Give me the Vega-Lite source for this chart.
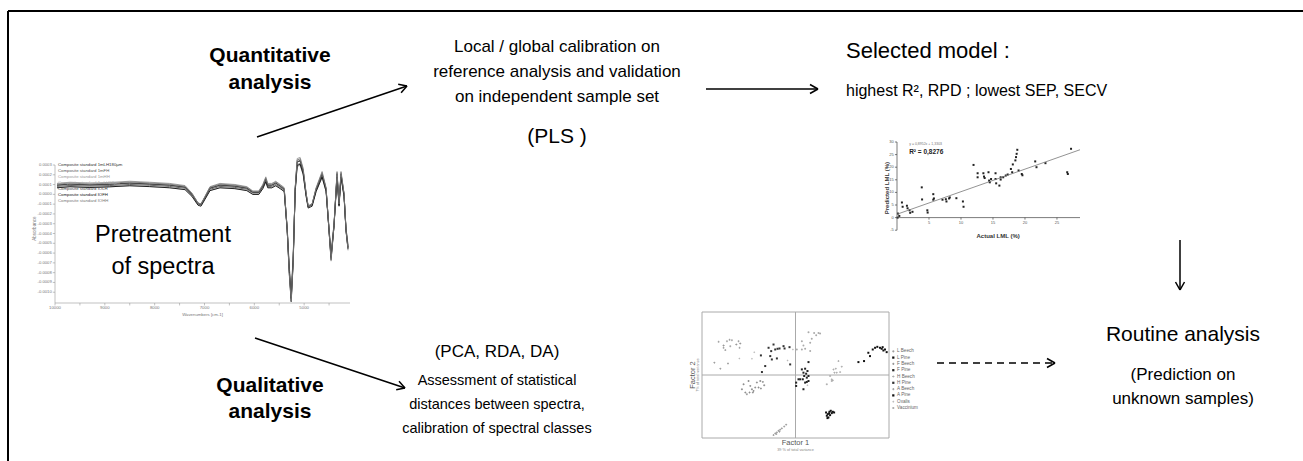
{
  "$schema": "https://vega.github.io/schema/vega-lite/v6.json",
  "width": 1303,
  "height": 461,
  "autosize": {"type": "none"},
  "padding": 0,
  "background": "white",
  "config": {"view": {"stroke": null}, "font": "Liberation Sans"},
  "resolve": {"scale": {"x": "independent", "y": "independent", "color": "independent", "shape": "independent"}},
  "layer": [
    {
      "layer": [
        {
          "data": {"values": [
            {"wavenumber": 9960, "1mLH180µm": 0.95, "1mFH": 0.81, "1mHH": 1.12, "1mLH63µm": 0.68, "IOLH": 0.93, "IOFH": 0.67, "IOHH": 1.04},
            {"wavenumber": 9700, "1mLH180µm": 1.06, "1mFH": 0.91, "1mHH": 1.24, "1mLH63µm": 0.78, "IOLH": 1.04, "IOFH": 0.78, "IOHH": 1.16},
            {"wavenumber": 9300, "1mLH180µm": 0.98, "1mFH": 0.84, "1mHH": 1.15, "1mLH63µm": 0.70, "IOLH": 0.95, "IOFH": 0.70, "IOHH": 1.06},
            {"wavenumber": 8900, "1mLH180µm": 1.04, "1mFH": 0.90, "1mHH": 1.22, "1mLH63µm": 0.77, "IOLH": 1.02, "IOFH": 0.77, "IOHH": 1.14},
            {"wavenumber": 8500, "1mLH180µm": 1.16, "1mFH": 1.01, "1mHH": 1.34, "1mLH63µm": 0.88, "IOLH": 1.14, "IOFH": 0.88, "IOHH": 1.26},
            {"wavenumber": 8100, "1mLH180µm": 1.06, "1mFH": 0.93, "1mHH": 1.24, "1mLH63µm": 0.80, "IOLH": 1.04, "IOFH": 0.79, "IOHH": 1.16},
            {"wavenumber": 7700, "1mLH180µm": 0.95, "1mFH": 0.81, "1mHH": 1.12, "1mLH63µm": 0.68, "IOLH": 0.93, "IOFH": 0.67, "IOHH": 1.04},
            {"wavenumber": 7390, "1mLH180µm": 0.75, "1mFH": 0.62, "1mHH": 0.90, "1mLH63µm": 0.50, "IOLH": 0.72, "IOFH": 0.48, "IOHH": 0.83},
            {"wavenumber": 7250, "1mLH180µm": 0.03, "1mFH": -0.07, "1mHH": 0.12, "1mLH63µm": -0.16, "IOLH": -0.02, "IOFH": -0.22, "IOHH": 0.08},
            {"wavenumber": 7130, "1mLH180µm": -0.89, "1mFH": -0.94, "1mHH": -0.87, "1mLH63µm": -1.01, "IOLH": -0.97, "IOFH": -1.11, "IOHH": -0.89},
            {"wavenumber": 7070, "1mLH180µm": -0.99, "1mFH": -1.04, "1mHH": -0.98, "1mLH63µm": -1.10, "IOLH": -1.07, "IOFH": -1.21, "IOHH": -0.99},
            {"wavenumber": 6990, "1mLH180µm": -0.27, "1mFH": -0.35, "1mHH": -0.20, "1mLH63µm": -0.44, "IOLH": -0.33, "IOFH": -0.51, "IOHH": -0.24},
            {"wavenumber": 6890, "1mLH180µm": 0.65, "1mFH": 0.52, "1mHH": 0.79, "1mLH63µm": 0.41, "IOLH": 0.62, "IOFH": 0.38, "IOHH": 0.73},
            {"wavenumber": 6690, "1mLH180µm": 0.95, "1mFH": 0.81, "1mHH": 1.12, "1mLH63µm": 0.68, "IOLH": 0.93, "IOFH": 0.67, "IOHH": 1.04},
            {"wavenumber": 6390, "1mLH180µm": 0.85, "1mFH": 0.71, "1mHH": 1.01, "1mLH63µm": 0.59, "IOLH": 0.82, "IOFH": 0.58, "IOHH": 0.94},
            {"wavenumber": 6150, "1mLH180µm": 0.65, "1mFH": 0.52, "1mHH": 0.79, "1mLH63µm": 0.41, "IOLH": 0.62, "IOFH": 0.38, "IOHH": 0.73},
            {"wavenumber": 6030, "1mLH180µm": 0.24, "1mFH": 0.13, "1mHH": 0.35, "1mLH63µm": 0.03, "IOLH": 0.19, "IOFH": -0.01, "IOHH": 0.30},
            {"wavenumber": 5910, "1mLH180µm": 0.24, "1mFH": 0.13, "1mHH": 0.35, "1mLH63µm": 0.03, "IOLH": 0.19, "IOFH": -0.01, "IOHH": 0.30},
            {"wavenumber": 5830, "1mLH180µm": 0.85, "1mFH": 0.71, "1mHH": 1.01, "1mLH63µm": 0.59, "IOLH": 0.82, "IOFH": 0.58, "IOHH": 0.94},
            {"wavenumber": 5770, "1mLH180µm": 1.57, "1mFH": 1.40, "1mHH": 1.79, "1mLH63µm": 1.25, "IOLH": 1.56, "IOFH": 1.28, "IOHH": 1.69},
            {"wavenumber": 5730, "1mLH180µm": 0.95, "1mFH": 0.81, "1mHH": 1.12, "1mLH63µm": 0.68, "IOLH": 0.93, "IOFH": 0.67, "IOHH": 1.04},
            {"wavenumber": 5650, "1mLH180µm": 0.95, "1mFH": 0.81, "1mHH": 1.12, "1mLH63µm": 0.68, "IOLH": 0.93, "IOFH": 0.67, "IOHH": 1.04},
            {"wavenumber": 5570, "1mLH180µm": 1.16, "1mFH": 1.01, "1mHH": 1.34, "1mLH63µm": 0.88, "IOLH": 1.14, "IOFH": 0.88, "IOHH": 1.26},
            {"wavenumber": 5480, "1mLH180µm": 0.85, "1mFH": 0.71, "1mHH": 1.01, "1mLH63µm": 0.59, "IOLH": 0.82, "IOFH": 0.58, "IOHH": 0.94},
            {"wavenumber": 5400, "1mLH180µm": 0.55, "1mFH": 0.43, "1mHH": 0.69, "1mLH63µm": 0.31, "IOLH": 0.51, "IOFH": 0.29, "IOHH": 0.62},
            {"wavenumber": 5340, "1mLH180µm": -3.54, "1mFH": -3.46, "1mHH": -3.73, "1mLH63µm": -3.45, "IOLH": -3.70, "IOFH": -3.68, "IOHH": -3.67},
            {"wavenumber": 5300, "1mLH180µm": -7.63, "1mFH": -7.34, "1mHH": -8.15, "1mLH63µm": -7.21, "IOLH": -7.91, "IOFH": -7.65, "IOHH": -7.97},
            {"wavenumber": 5260, "1mLH180µm": -10.69, "1mFH": -10.25, "1mHH": -11.0, "1mLH63µm": -10.03, "IOLH": -10.95, "IOFH": -10.62, "IOHH": -10.9},
            {"wavenumber": 5220, "1mLH180µm": -6.61, "1mFH": -6.37, "1mHH": -7.05, "1mLH63µm": -6.27, "IOLH": -6.86, "IOFH": -6.66, "IOHH": -6.90},
            {"wavenumber": 5180, "1mLH180µm": 0.55, "1mFH": 0.43, "1mHH": 0.69, "1mLH63µm": 0.31, "IOLH": 0.51, "IOFH": 0.29, "IOHH": 0.62},
            {"wavenumber": 5140, "1mLH180µm": 3.30, "1mFH": 3.04, "1mHH": 3.66, "1mLH63µm": 2.84, "IOLH": 3.35, "IOFH": 2.95, "IOHH": 3.51},
            {"wavenumber": 5080, "1mLH180µm": 3.41, "1mFH": 3.14, "1mHH": 3.77, "1mLH63µm": 2.95, "IOLH": 3.46, "IOFH": 3.06, "IOHH": 3.63},
            {"wavenumber": 5020, "1mLH180µm": 2.39, "1mFH": 2.18, "1mHH": 2.67, "1mLH63µm": 2.01, "IOLH": 2.41, "IOFH": 2.07, "IOHH": 2.55},
            {"wavenumber": 4960, "1mLH180µm": 0.03, "1mFH": -0.07, "1mHH": 0.12, "1mLH63µm": -0.16, "IOLH": -0.02, "IOFH": -0.22, "IOHH": 0.08},
            {"wavenumber": 4920, "1mLH180µm": -1.19, "1mFH": -1.23, "1mHH": -1.19, "1mLH63µm": -1.29, "IOLH": -1.28, "IOFH": -1.40, "IOHH": -1.20},
            {"wavenumber": 4840, "1mLH180µm": -0.99, "1mFH": -1.04, "1mHH": -0.98, "1mLH63µm": -1.10, "IOLH": -1.07, "IOFH": -1.21, "IOHH": -0.99},
            {"wavenumber": 4760, "1mLH180µm": 0.55, "1mFH": 0.43, "1mHH": 0.69, "1mLH63µm": 0.31, "IOLH": 0.51, "IOFH": 0.29, "IOHH": 0.62},
            {"wavenumber": 4640, "1mLH180µm": 2.08, "1mFH": 1.88, "1mHH": 2.34, "1mLH63µm": 1.72, "IOLH": 2.09, "IOFH": 1.77, "IOHH": 2.23},
            {"wavenumber": 4560, "1mLH180µm": 0.55, "1mFH": 0.43, "1mHH": 0.69, "1mLH63µm": 0.31, "IOLH": 0.51, "IOFH": 0.29, "IOHH": 0.62},
            {"wavenumber": 4460, "1mLH180µm": -6.40, "1mFH": -6.18, "1mHH": -6.82, "1mLH63µm": -6.08, "IOLH": -6.65, "IOFH": -6.46, "IOHH": -6.68},
            {"wavenumber": 4400, "1mLH180µm": -3.03, "1mFH": -2.97, "1mHH": -3.18, "1mLH63µm": -2.98, "IOLH": -3.17, "IOFH": -3.19, "IOHH": -3.14},
            {"wavenumber": 4340, "1mLH180µm": 2.08, "1mFH": 1.88, "1mHH": 2.34, "1mLH63µm": 1.72, "IOLH": 2.09, "IOFH": 1.77, "IOHH": 2.23},
            {"wavenumber": 4300, "1mLH180µm": -0.99, "1mFH": -1.04, "1mHH": -0.98, "1mLH63µm": -1.10, "IOLH": -1.07, "IOFH": -1.21, "IOHH": -0.99},
            {"wavenumber": 4260, "1mLH180µm": 2.08, "1mFH": 1.88, "1mHH": 2.34, "1mLH63µm": 1.72, "IOLH": 2.09, "IOFH": 1.77, "IOHH": 2.23},
            {"wavenumber": 4200, "1mLH180µm": 0.03, "1mFH": -0.07, "1mHH": 0.12, "1mLH63µm": -0.16, "IOLH": -0.02, "IOFH": -0.22, "IOHH": 0.08},
            {"wavenumber": 4160, "1mLH180µm": -3.54, "1mFH": -3.46, "1mHH": -3.73, "1mLH63µm": -3.45, "IOLH": -3.70, "IOFH": -3.68, "IOHH": -3.67},
            {"wavenumber": 4120, "1mLH180µm": -5.38, "1mFH": -5.21, "1mHH": -5.72, "1mLH63µm": -5.14, "IOLH": -5.59, "IOFH": -5.47, "IOHH": -5.60}
          ]},
          "transform": [{"fold": ["1mLH180µm", "1mFH", "1mHH", "1mLH63µm", "IOLH", "IOFH", "IOHH"], "as": ["standard", "absorbance"]}],
          "mark": {"type": "line", "strokeWidth": 0.9},
          "encoding": {
            "x": {"field": "wavenumber", "type": "quantitative", "scale": {"domain": [10000, 4080], "range": [55, 350], "nice": false, "zero": false}, "axis": null},
            "y": {"field": "absorbance", "type": "quantitative", "scale": {"domain": [-11.1, 3], "range": [303, 165], "nice": false, "zero": false}, "axis": null},
            "color": {"field": "standard", "type": "nominal",
              "scale": {"domain": ["1mLH180µm", "1mFH", "1mHH", "1mLH63µm", "IOLH", "IOFH", "IOHH"], "range": ["#333333", "#555555", "#999999", "#aaaaaa", "#444444", "#111111", "#777777"]},
              "legend": null}
          }
        },
        {
          "data": {"values": [
            {"wavenumber": 10000, "wavenumber2": 4080, "absorbance": -11.1, "absorbance2": -11.1},
            {"wavenumber": 10000, "wavenumber2": 10000, "absorbance": -11.1, "absorbance2": 3},
            {"wavenumber": 10000, "wavenumber2": 10000, "absorbance": -11.1, "absorbance2": -11.35},
            {"wavenumber": 9500, "wavenumber2": 9500, "absorbance": -11.1, "absorbance2": -11.35},
            {"wavenumber": 9000, "wavenumber2": 9000, "absorbance": -11.1, "absorbance2": -11.35},
            {"wavenumber": 8500, "wavenumber2": 8500, "absorbance": -11.1, "absorbance2": -11.35},
            {"wavenumber": 8000, "wavenumber2": 8000, "absorbance": -11.1, "absorbance2": -11.35},
            {"wavenumber": 7500, "wavenumber2": 7500, "absorbance": -11.1, "absorbance2": -11.35},
            {"wavenumber": 7000, "wavenumber2": 7000, "absorbance": -11.1, "absorbance2": -11.35},
            {"wavenumber": 6500, "wavenumber2": 6500, "absorbance": -11.1, "absorbance2": -11.35},
            {"wavenumber": 6000, "wavenumber2": 6000, "absorbance": -11.1, "absorbance2": -11.35},
            {"wavenumber": 5500, "wavenumber2": 5500, "absorbance": -11.1, "absorbance2": -11.35},
            {"wavenumber": 5000, "wavenumber2": 5000, "absorbance": -11.1, "absorbance2": -11.35},
            {"wavenumber": 4500, "wavenumber2": 4500, "absorbance": -11.1, "absorbance2": -11.35},
            {"wavenumber": 10000, "wavenumber2": 10045, "absorbance": 3, "absorbance2": 3},
            {"wavenumber": 10000, "wavenumber2": 10045, "absorbance": 2, "absorbance2": 2},
            {"wavenumber": 10000, "wavenumber2": 10045, "absorbance": 1, "absorbance2": 1},
            {"wavenumber": 10000, "wavenumber2": 10045, "absorbance": 0, "absorbance2": 0},
            {"wavenumber": 10000, "wavenumber2": 10045, "absorbance": -1, "absorbance2": -1},
            {"wavenumber": 10000, "wavenumber2": 10045, "absorbance": -2, "absorbance2": -2},
            {"wavenumber": 10000, "wavenumber2": 10045, "absorbance": -3, "absorbance2": -3},
            {"wavenumber": 10000, "wavenumber2": 10045, "absorbance": -4, "absorbance2": -4},
            {"wavenumber": 10000, "wavenumber2": 10045, "absorbance": -5, "absorbance2": -5},
            {"wavenumber": 10000, "wavenumber2": 10045, "absorbance": -6, "absorbance2": -6},
            {"wavenumber": 10000, "wavenumber2": 10045, "absorbance": -7, "absorbance2": -7},
            {"wavenumber": 10000, "wavenumber2": 10045, "absorbance": -8, "absorbance2": -8},
            {"wavenumber": 10000, "wavenumber2": 10045, "absorbance": -9, "absorbance2": -9},
            {"wavenumber": 10000, "wavenumber2": 10045, "absorbance": -10, "absorbance2": -10}
          ]},
          "mark": {"type": "rule", "color": "#999999", "strokeWidth": 0.6},
          "encoding": {
            "x": {"field": "wavenumber", "type": "quantitative", "axis": null},
            "x2": {"field": "wavenumber2"},
            "y": {"field": "absorbance", "type": "quantitative", "axis": null},
            "y2": {"field": "absorbance2"}
          }
        },
        {
          "data": {"values": [
            {"wavenumber": 10000, "absorbance": -11.6, "label": "10000"},
            {"wavenumber": 9000, "absorbance": -11.6, "label": "9000"},
            {"wavenumber": 8000, "absorbance": -11.6, "label": "8000"},
            {"wavenumber": 7000, "absorbance": -11.6, "label": "7000"},
            {"wavenumber": 6000, "absorbance": -11.6, "label": "6000"},
            {"wavenumber": 5000, "absorbance": -11.6, "label": "5000"},
            {"wavenumber": 7040, "absorbance": -12.35, "label": "Wavenumbers [cm-1]"}
          ]},
          "mark": {"type": "text", "fontSize": 4.3, "align": "center", "baseline": "middle", "color": "#777777"},
          "encoding": {
            "x": {"field": "wavenumber", "type": "quantitative", "axis": null},
            "y": {"field": "absorbance", "type": "quantitative", "axis": null},
            "text": {"field": "label"}
          }
        },
        {
          "data": {"values": [
            {"wavenumber": 10065, "absorbance": 3, "label": "0.0003"},
            {"wavenumber": 10065, "absorbance": 2, "label": "0.0002"},
            {"wavenumber": 10065, "absorbance": 1, "label": "0.0001"},
            {"wavenumber": 10065, "absorbance": 0, "label": "0.0000"},
            {"wavenumber": 10065, "absorbance": -1, "label": "-0.0001"},
            {"wavenumber": 10065, "absorbance": -2, "label": "-0.0002"},
            {"wavenumber": 10065, "absorbance": -3, "label": "-0.0003"},
            {"wavenumber": 10065, "absorbance": -4, "label": "-0.0004"},
            {"wavenumber": 10065, "absorbance": -5, "label": "-0.0005"},
            {"wavenumber": 10065, "absorbance": -6, "label": "-0.0006"},
            {"wavenumber": 10065, "absorbance": -7, "label": "-0.0007"},
            {"wavenumber": 10065, "absorbance": -8, "label": "-0.0008"},
            {"wavenumber": 10065, "absorbance": -9, "label": "-0.0009"},
            {"wavenumber": 10065, "absorbance": -10, "label": "-0.0010"}
          ]},
          "mark": {"type": "text", "fontSize": 4.2, "align": "right", "baseline": "middle", "color": "#777777"},
          "encoding": {
            "x": {"field": "wavenumber", "type": "quantitative", "axis": null},
            "y": {"field": "absorbance", "type": "quantitative", "axis": null},
            "text": {"field": "label"}
          }
        },
        {
          "data": {"values": [{"wavenumber": 10400, "absorbance": -3.5, "label": "Absorbance"}]},
          "mark": {"type": "text", "fontSize": 4.5, "align": "center", "baseline": "middle", "angle": 270, "color": "#777777"},
          "encoding": {
            "x": {"field": "wavenumber", "type": "quantitative", "axis": null},
            "y": {"field": "absorbance", "type": "quantitative", "axis": null},
            "text": {"field": "label"}
          }
        },
        {
          "data": {"values": [
            {"standard": "1mLH180µm", "label": "Composite standard 1mLH180µm", "wavenumber": 9940, "absorbance": 3.0},
            {"standard": "1mFH", "label": "Composite standard 1mFH", "wavenumber": 9940, "absorbance": 2.39},
            {"standard": "1mHH", "label": "Composite standard 1mHH", "wavenumber": 9940, "absorbance": 1.77},
            {"standard": "1mLH63µm", "label": "Composite standard 1mLH63µm", "wavenumber": 9940, "absorbance": 1.16},
            {"standard": "IOLH", "label": "Composite standard IOLH", "wavenumber": 9940, "absorbance": 0.55},
            {"standard": "IOFH", "label": "Composite standard IOFH", "wavenumber": 9940, "absorbance": -0.06},
            {"standard": "IOHH", "label": "Composite standard IOHH", "wavenumber": 9940, "absorbance": -0.68}
          ]},
          "mark": {"type": "text", "fontSize": 4.3, "align": "left", "baseline": "middle"},
          "encoding": {
            "x": {"field": "wavenumber", "type": "quantitative", "axis": null},
            "y": {"field": "absorbance", "type": "quantitative", "axis": null},
            "text": {"field": "label"},
            "color": {"field": "standard", "type": "nominal", "legend": null}
          }
        }
      ]
    },
    {
      "layer": [
        {
          "data": {"values": [
            {"actual": 0.1, "predicted": 0}, {"actual": 0.15, "predicted": 1.6}, {"actual": 0.36, "predicted": 0.67},
            {"actual": 0.77, "predicted": 6.0}, {"actual": 0.88, "predicted": 4.3}, {"actual": 1.55, "predicted": 4.7},
            {"actual": 1.65, "predicted": 3.7}, {"actual": 1.96, "predicted": 2.9}, {"actual": 2.06, "predicted": 1.9},
            {"actual": 2.42, "predicted": 2.3}, {"actual": 3.87, "predicted": 12.0}, {"actual": 3.92, "predicted": 7.2},
            {"actual": 4.74, "predicted": 2.9}, {"actual": 4.79, "predicted": 2.0}, {"actual": 5.67, "predicted": 9.3},
            {"actual": 5.77, "predicted": 7.6}, {"actual": 5.67, "predicted": 7.1}, {"actual": 7.11, "predicted": 7.1},
            {"actual": 7.63, "predicted": 7.3}, {"actual": 7.73, "predicted": 6.4}, {"actual": 8.14, "predicted": 7.6},
            {"actual": 8.25, "predicted": 8.0}, {"actual": 9.28, "predicted": 7.7}, {"actual": 10.3, "predicted": 6.4},
            {"actual": 10.4, "predicted": 4.3}, {"actual": 11.96, "predicted": 20.9}, {"actual": 12.6, "predicted": 17.6},
            {"actual": 12.6, "predicted": 16.0}, {"actual": 13.5, "predicted": 17.6}, {"actual": 13.6, "predicted": 16.3},
            {"actual": 13.7, "predicted": 15.7}, {"actual": 14.3, "predicted": 18.0}, {"actual": 14.4, "predicted": 14.7},
            {"actual": 14.5, "predicted": 14.0}, {"actual": 14.7, "predicted": 15.3}, {"actual": 15.4, "predicted": 17.6},
            {"actual": 15.4, "predicted": 15.3}, {"actual": 15.5, "predicted": 13.6}, {"actual": 16.0, "predicted": 12.7},
            {"actual": 16.2, "predicted": 16.0}, {"actual": 16.2, "predicted": 15.1}, {"actual": 16.6, "predicted": 16.0},
            {"actual": 17.0, "predicted": 16.7}, {"actual": 17.3, "predicted": 17.1}, {"actual": 17.8, "predicted": 19.3},
            {"actual": 18.0, "predicted": 18.0}, {"actual": 18.1, "predicted": 21.1}, {"actual": 18.5, "predicted": 22.7},
            {"actual": 18.6, "predicted": 24.0}, {"actual": 18.7, "predicted": 25.3}, {"actual": 18.8, "predicted": 26.9},
            {"actual": 19.0, "predicted": 18.7}, {"actual": 19.5, "predicted": 17.3}, {"actual": 19.6, "predicted": 16.8},
            {"actual": 21.6, "predicted": 22.3}, {"actual": 21.8, "predicted": 20.0}, {"actual": 23.2, "predicted": 21.6},
            {"actual": 26.6, "predicted": 18.0}, {"actual": 26.7, "predicted": 17.3}, {"actual": 27.2, "predicted": 27.3}
          ]},
          "mark": {"type": "point", "shape": "square", "filled": true, "size": 4, "color": "#222222", "opacity": 1},
          "encoding": {
            "x": {"field": "actual", "type": "quantitative", "scale": {"domain": [0, 28.6], "range": [897, 1080], "nice": false, "zero": false}, "axis": null},
            "y": {"field": "predicted", "type": "quantitative", "scale": {"domain": [-5, 30], "range": [230.2, 142], "nice": false, "zero": false}, "axis": null}
          }
        },
        {
          "data": {"values": [
            {"actual": 0, "actual2": 28.6, "predicted": 0, "predicted2": 0},
            {"actual": 0, "actual2": 0, "predicted": -5, "predicted2": 30},
            {"actual": 5, "actual2": 5, "predicted": 0, "predicted2": -0.8},
            {"actual": 10, "actual2": 10, "predicted": 0, "predicted2": -0.8},
            {"actual": 15, "actual2": 15, "predicted": 0, "predicted2": -0.8},
            {"actual": 20, "actual2": 20, "predicted": 0, "predicted2": -0.8},
            {"actual": 25, "actual2": 25, "predicted": 0, "predicted2": -0.8},
            {"actual": 0, "actual2": -0.32, "predicted": -5, "predicted2": -5},
            {"actual": 0, "actual2": -0.32, "predicted": 0, "predicted2": 0},
            {"actual": 0, "actual2": -0.32, "predicted": 5, "predicted2": 5},
            {"actual": 0, "actual2": -0.32, "predicted": 10, "predicted2": 10},
            {"actual": 0, "actual2": -0.32, "predicted": 15, "predicted2": 15},
            {"actual": 0, "actual2": -0.32, "predicted": 20, "predicted2": 20},
            {"actual": 0, "actual2": -0.32, "predicted": 25, "predicted2": 25},
            {"actual": 0, "actual2": -0.32, "predicted": 30, "predicted2": 30}
          ]},
          "mark": {"type": "rule", "color": "#444444", "strokeWidth": 0.7},
          "encoding": {
            "x": {"field": "actual", "type": "quantitative", "axis": null},
            "x2": {"field": "actual2"},
            "y": {"field": "predicted", "type": "quantitative", "axis": null},
            "y2": {"field": "predicted2"}
          }
        },
        {
          "data": {"values": [{"actual": 0, "predicted": 1.33}, {"actual": 28.6, "predicted": 26.93}]},
          "mark": {"type": "line", "color": "#777777", "strokeWidth": 0.8},
          "encoding": {
            "x": {"field": "actual", "type": "quantitative", "axis": null},
            "y": {"field": "predicted", "type": "quantitative", "axis": null}
          }
        },
        {
          "data": {"values": [
            {"actual": 5, "predicted": -2.0, "label": "5"},
            {"actual": 10, "predicted": -2.0, "label": "10"},
            {"actual": 15, "predicted": -2.0, "label": "15"},
            {"actual": 20, "predicted": -2.0, "label": "20"},
            {"actual": 25, "predicted": -2.0, "label": "25"}
          ]},
          "mark": {"type": "text", "fontSize": 4, "align": "center", "baseline": "middle", "color": "#555555"},
          "encoding": {
            "x": {"field": "actual", "type": "quantitative", "axis": null},
            "y": {"field": "predicted", "type": "quantitative", "axis": null},
            "text": {"field": "label"}
          }
        },
        {
          "data": {"values": [
            {"actual": -0.5, "predicted": -5, "label": "-5"},
            {"actual": -0.5, "predicted": 0, "label": "0"},
            {"actual": -0.5, "predicted": 5, "label": "5"},
            {"actual": -0.5, "predicted": 10, "label": "10"},
            {"actual": -0.5, "predicted": 15, "label": "15"},
            {"actual": -0.5, "predicted": 20, "label": "20"},
            {"actual": -0.5, "predicted": 25, "label": "25"},
            {"actual": -0.5, "predicted": 30, "label": "30"}
          ]},
          "mark": {"type": "text", "fontSize": 4, "align": "right", "baseline": "middle", "color": "#555555"},
          "encoding": {
            "x": {"field": "actual", "type": "quantitative", "axis": null},
            "y": {"field": "predicted", "type": "quantitative", "axis": null},
            "text": {"field": "label"}
          }
        },
        {
          "data": {"values": [{"actual": 15.8, "predicted": -7.4, "label": "Actual LML (%)"}]},
          "mark": {"type": "text", "fontSize": 6, "fontWeight": "bold", "align": "center", "baseline": "middle", "color": "#333333"},
          "encoding": {
            "x": {"field": "actual", "type": "quantitative", "axis": null},
            "y": {"field": "predicted", "type": "quantitative", "axis": null},
            "text": {"field": "label"}
          }
        },
        {
          "data": {"values": [{"actual": -1.6, "predicted": 11.7, "label": "Predicted LML (%)"}]},
          "mark": {"type": "text", "fontSize": 6, "fontWeight": "bold", "align": "center", "baseline": "middle", "angle": 270, "color": "#333333"},
          "encoding": {
            "x": {"field": "actual", "type": "quantitative", "axis": null},
            "y": {"field": "predicted", "type": "quantitative", "axis": null},
            "text": {"field": "label"}
          }
        },
        {
          "data": {"values": [{"actual": 1.9, "predicted": 29.2, "label": "y = 0,8952x + 1,3303"}]},
          "mark": {"type": "text", "fontSize": 3.5, "align": "left", "baseline": "middle", "color": "#777777"},
          "encoding": {
            "x": {"field": "actual", "type": "quantitative", "axis": null},
            "y": {"field": "predicted", "type": "quantitative", "axis": null},
            "text": {"field": "label"}
          }
        },
        {
          "data": {"values": [{"actual": 1.9, "predicted": 26.2, "label": "R² = 0,8276"}]},
          "mark": {"type": "text", "fontSize": 6.5, "fontWeight": "bold", "align": "left", "baseline": "middle", "color": "#222222"},
          "encoding": {
            "x": {"field": "actual", "type": "quantitative", "axis": null},
            "y": {"field": "predicted", "type": "quantitative", "axis": null},
            "text": {"field": "label"}
          }
        }
      ]
    },
    {
      "layer": [
        {
          "data": {"values": [{"f1": -10, "f1end": 10, "f2": -10, "f2end": 10}]},
          "mark": {"type": "rect", "filled": false, "color": "#aaaaaa", "strokeWidth": 1},
          "encoding": {
            "x": {"field": "f1", "type": "quantitative", "scale": {"domain": [-10, 10], "range": [702, 889], "nice": false, "zero": false}, "axis": null},
            "x2": {"field": "f1end"},
            "y": {"field": "f2", "type": "quantitative", "scale": {"domain": [-10, 10], "range": [438, 312], "nice": false, "zero": false}, "axis": null},
            "y2": {"field": "f2end"}
          }
        },
        {
          "data": {"values": [{"f1": 0, "f1end": 0, "f2": -10, "f2end": 10}, {"f1": -10, "f1end": 10, "f2": 0, "f2end": 0}]},
          "mark": {"type": "rule", "color": "#aaaaaa", "strokeWidth": 1},
          "encoding": {
            "x": {"field": "f1", "type": "quantitative", "axis": null},
            "x2": {"field": "f1end"},
            "y": {"field": "f2", "type": "quantitative", "axis": null},
            "y2": {"field": "f2end"}
          }
        },
        {
          "data": {"values": [
            {"class": "L Beech", "f1": -2.35, "f2": -9.53}, {"class": "L Beech", "f1": -2.17, "f2": -9.26}, {"class": "L Beech", "f1": -1.99, "f2": -9.1},
            {"class": "L Beech", "f1": -1.81, "f2": -8.84}, {"class": "L Beech", "f1": -1.64, "f2": -8.68}, {"class": "L Beech", "f1": -1.46, "f2": -8.47},
            {"class": "L Beech", "f1": -1.21, "f2": -8.16}, {"class": "L Beech", "f1": -1.0, "f2": -7.89}, {"class": "L Beech", "f1": -2.06, "f2": -9.37},
            {"class": "L Beech", "f1": -1.71, "f2": -9.0},
            {"class": "L Pine", "f1": 3.27, "f2": -5.95}, {"class": "L Pine", "f1": 3.35, "f2": -6.47}, {"class": "L Pine", "f1": 3.45, "f2": -6.21},
            {"class": "L Pine", "f1": 3.52, "f2": -6.74}, {"class": "L Pine", "f1": 3.63, "f2": -5.84}, {"class": "L Pine", "f1": 3.70, "f2": -6.37},
            {"class": "L Pine", "f1": 3.77, "f2": -5.68}, {"class": "L Pine", "f1": 3.88, "f2": -6.05}, {"class": "L Pine", "f1": 3.99, "f2": -5.84},
            {"class": "L Pine", "f1": 4.13, "f2": -5.95}, {"class": "L Pine", "f1": 3.42, "f2": -6.84}, {"class": "L Pine", "f1": 3.59, "f2": -6.1},
            {"class": "F Beech", "f1": -5.73, "f2": -2.26}, {"class": "F Beech", "f1": -5.55, "f2": -1.47}, {"class": "F Beech", "f1": -5.02, "f2": -0.95},
            {"class": "F Beech", "f1": -4.84, "f2": -1.74}, {"class": "F Beech", "f1": -4.66, "f2": -2.26}, {"class": "F Beech", "f1": -5.2, "f2": -3.05},
            {"class": "F Beech", "f1": -4.56, "f2": -2.79}, {"class": "F Beech", "f1": -4.31, "f2": -2.0}, {"class": "F Beech", "f1": -4.13, "f2": -1.21},
            {"class": "F Beech", "f1": -3.95, "f2": -2.0}, {"class": "F Beech", "f1": -3.7, "f2": -2.16}, {"class": "F Beech", "f1": -3.49, "f2": -1.1},
            {"class": "F Beech", "f1": -3.35, "f2": -1.63}, {"class": "F Beech", "f1": -3.77, "f2": -0.95}, {"class": "F Beech", "f1": -4.48, "f2": -2.53},
            {"class": "F Beech", "f1": -4.91, "f2": -2.79}, {"class": "F Beech", "f1": -5.37, "f2": -2.79},
            {"class": "F Pine", "f1": 0.68, "f2": 0.89}, {"class": "F Pine", "f1": 0.85, "f2": 0.37}, {"class": "F Pine", "f1": 0.93, "f2": -0.16},
            {"class": "F Pine", "f1": 1.03, "f2": 1.0}, {"class": "F Pine", "f1": 1.14, "f2": 0.21}, {"class": "F Pine", "f1": 1.21, "f2": -0.42},
            {"class": "F Pine", "f1": 1.28, "f2": 0.63}, {"class": "F Pine", "f1": 1.39, "f2": 2.05}, {"class": "F Pine", "f1": 1.39, "f2": -0.16},
            {"class": "F Pine", "f1": 0.78, "f2": -0.68}, {"class": "F Pine", "f1": 0.5, "f2": -0.68}, {"class": "F Pine", "f1": 1.03, "f2": -1.21},
            {"class": "F Pine", "f1": 1.21, "f2": -1.1}, {"class": "F Pine", "f1": 1.39, "f2": -0.95}, {"class": "F Pine", "f1": 0.85, "f2": -2.26},
            {"class": "F Pine", "f1": 0.32, "f2": -0.68}, {"class": "F Pine", "f1": 0.07, "f2": -1.21}, {"class": "F Pine", "f1": 0.07, "f2": -1.74},
            {"class": "H Beech", "f1": 3.35, "f2": -1.47}, {"class": "H Beech", "f1": 3.70, "f2": -0.16}, {"class": "H Beech", "f1": 3.88, "f2": -0.68},
            {"class": "H Beech", "f1": 3.99, "f2": -0.84}, {"class": "H Beech", "f1": 4.06, "f2": 0.89}, {"class": "H Beech", "f1": 4.31, "f2": 1.0},
            {"class": "H Beech", "f1": 4.41, "f2": 0.37}, {"class": "H Beech", "f1": 4.59, "f2": 2.21}, {"class": "H Beech", "f1": 4.77, "f2": 0.47},
            {"class": "H Beech", "f1": 4.95, "f2": 1.32}, {"class": "H Beech", "f1": 4.16, "f2": 0.37}, {"class": "H Beech", "f1": 3.88, "f2": -0.95},
            {"class": "H Pine", "f1": -3.7, "f2": 3.11}, {"class": "H Pine", "f1": -3.59, "f2": 0.47}, {"class": "H Pine", "f1": -3.24, "f2": 1.42},
            {"class": "H Pine", "f1": -2.88, "f2": 4.32}, {"class": "H Pine", "f1": -2.7, "f2": 3.0}, {"class": "H Pine", "f1": -2.53, "f2": 2.47},
            {"class": "H Pine", "f1": -2.35, "f2": 4.84}, {"class": "H Pine", "f1": -2.17, "f2": 4.05}, {"class": "H Pine", "f1": -1.92, "f2": 4.16},
            {"class": "H Pine", "f1": -1.71, "f2": 4.21}, {"class": "H Pine", "f1": -1.99, "f2": 2.63}, {"class": "H Pine", "f1": -1.28, "f2": 4.58},
            {"class": "H Pine", "f1": -1.17, "f2": 4.21}, {"class": "H Pine", "f1": -0.64, "f2": 4.42}, {"class": "H Pine", "f1": -0.57, "f2": 1.68},
            {"class": "H Pine", "f1": -2.6, "f2": 3.79},
            {"class": "A Beech", "f1": -8.22, "f2": 5.26}, {"class": "A Beech", "f1": -7.69, "f2": 4.68}, {"class": "A Beech", "f1": -7.51, "f2": 3.95},
            {"class": "A Beech", "f1": -7.33, "f2": 5.37}, {"class": "A Beech", "f1": -7.05, "f2": 5.58}, {"class": "A Beech", "f1": -6.8, "f2": 5.53},
            {"class": "A Beech", "f1": -6.98, "f2": 4.58}, {"class": "A Beech", "f1": -6.33, "f2": 4.84}, {"class": "A Beech", "f1": -6.09, "f2": 5.37},
            {"class": "A Beech", "f1": -5.91, "f2": 5.0}, {"class": "A Beech", "f1": -5.98, "f2": 4.32}, {"class": "A Beech", "f1": -8.68, "f2": 1.95},
            {"class": "A Beech", "f1": -8.04, "f2": 1.0}, {"class": "A Beech", "f1": -7.22, "f2": 1.84}, {"class": "A Beech", "f1": -7.69, "f2": 4.32},
            {"class": "A Pine", "f1": 6.73, "f2": 2.05}, {"class": "A Pine", "f1": 7.33, "f2": 2.21}, {"class": "A Pine", "f1": 7.79, "f2": 3.53},
            {"class": "A Pine", "f1": 7.97, "f2": 3.0}, {"class": "A Pine", "f1": 8.26, "f2": 4.05}, {"class": "A Pine", "f1": 8.51, "f2": 4.32},
            {"class": "A Pine", "f1": 8.75, "f2": 4.47}, {"class": "A Pine", "f1": 9.04, "f2": 4.32}, {"class": "A Pine", "f1": 9.22, "f2": 4.16},
            {"class": "A Pine", "f1": 9.4, "f2": 3.89}, {"class": "A Pine", "f1": 9.57, "f2": 4.05}, {"class": "A Pine", "f1": 9.32, "f2": 4.42},
            {"class": "A Pine", "f1": 9.75, "f2": 3.63},
            {"class": "Oxalis", "f1": -4.66, "f2": 2.58}, {"class": "Oxalis", "f1": -4.41, "f2": 3.63}, {"class": "Oxalis", "f1": -0.85, "f2": 2.32},
            {"class": "Oxalis", "f1": -0.28, "f2": 4.05}, {"class": "Oxalis", "f1": 1.28, "f2": -1.63}, {"class": "Oxalis", "f1": -6.0, "f2": 2.6},
            {"class": "Vaccinium", "f1": 0.68, "f2": 5.37}, {"class": "Vaccinium", "f1": 0.85, "f2": 4.68}, {"class": "Vaccinium", "f1": 1.03, "f2": 4.16},
            {"class": "Vaccinium", "f1": 1.39, "f2": 6.79}, {"class": "Vaccinium", "f1": 1.57, "f2": 5.11}, {"class": "Vaccinium", "f1": 1.74, "f2": 5.74},
            {"class": "Vaccinium", "f1": 1.99, "f2": 6.68}, {"class": "Vaccinium", "f1": 2.21, "f2": 6.32}, {"class": "Vaccinium", "f1": 2.46, "f2": 6.68},
            {"class": "Vaccinium", "f1": 2.63, "f2": 6.58}, {"class": "Vaccinium", "f1": 1.57, "f2": 3.79}, {"class": "Vaccinium", "f1": 0.68, "f2": 4.05},
            {"class": "Vaccinium", "f1": 0.14, "f2": 4.05}
          ]},
          "mark": {"type": "point", "filled": true, "size": 4, "opacity": 1},
          "encoding": {
            "x": {"field": "f1", "type": "quantitative", "axis": null},
            "y": {"field": "f2", "type": "quantitative", "axis": null},
            "color": {"field": "class", "type": "nominal",
              "scale": {"domain": ["L Beech", "L Pine", "F Beech", "F Pine", "H Beech", "H Pine", "A Beech", "A Pine", "Oxalis", "Vaccinium"],
                "range": ["#999999", "#111111", "#888888", "#222222", "#aaaaaa", "#333333", "#999999", "#111111", "#bbbbbb", "#aaaaaa"]},
              "legend": {"orient": "none", "legendX": 891, "legendY": 349, "title": null, "labelFontSize": 4.6, "symbolSize": 5, "rowPadding": 1.3,
                "labelColor": "#666666", "padding": 0, "labelOffset": 1.5, "symbolStrokeWidth": 0.5}},
            "shape": {"field": "class", "type": "nominal",
              "scale": {"domain": ["L Beech", "L Pine", "F Beech", "F Pine", "H Beech", "H Pine", "A Beech", "A Pine", "Oxalis", "Vaccinium"],
                "range": ["cross", "square", "cross", "square", "cross", "square", "cross", "square", "diamond", "circle"]},
              "legend": {"orient": "none", "legendX": 891, "legendY": 349, "title": null, "labelFontSize": 4.6, "symbolSize": 5, "rowPadding": 1.3,
                "labelColor": "#666666", "padding": 0, "labelOffset": 1.5, "symbolStrokeWidth": 0.5}}
          }
        },
        {
          "data": {"values": [{"f1": 0, "f2": -10.85, "label": "Factor 1"}]},
          "mark": {"type": "text", "fontSize": 7.5, "align": "center", "baseline": "middle", "color": "#555555"},
          "encoding": {
            "x": {"field": "f1", "type": "quantitative", "axis": null},
            "y": {"field": "f2", "type": "quantitative", "axis": null},
            "text": {"field": "label"}
          }
        },
        {
          "data": {"values": [{"f1": 0, "f2": -11.9, "label": "39 % of total variance"}]},
          "mark": {"type": "text", "fontSize": 3.8, "align": "center", "baseline": "middle", "color": "#888888"},
          "encoding": {
            "x": {"field": "f1", "type": "quantitative", "axis": null},
            "y": {"field": "f2", "type": "quantitative", "axis": null},
            "text": {"field": "label"}
          }
        },
        {
          "data": {"values": [{"f1": -10.95, "f2": 0, "label": "Factor 2"}]},
          "mark": {"type": "text", "fontSize": 7.5, "align": "center", "baseline": "middle", "angle": 270, "color": "#555555"},
          "encoding": {
            "x": {"field": "f1", "type": "quantitative", "axis": null},
            "y": {"field": "f2", "type": "quantitative", "axis": null},
            "text": {"field": "label"}
          }
        },
        {
          "data": {"values": [{"f1": -10.42, "f2": 0, "label": "7% of total variance"}]},
          "mark": {"type": "text", "fontSize": 3.8, "align": "center", "baseline": "middle", "angle": 270, "color": "#888888"},
          "encoding": {
            "x": {"field": "f1", "type": "quantitative", "axis": null},
            "y": {"field": "f2", "type": "quantitative", "axis": null},
            "text": {"field": "label"}
          }
        }
      ]
    },
    {
      "layer": [
        {
          "data": {"values": [{"x": 8, "y": 11, "x2": 1303, "y2": 11}, {"x": 8, "y": 11, "x2": 8, "y2": 461}]},
          "mark": {"type": "rule", "color": "#000000", "strokeWidth": 2},
          "encoding": {
            "x": {"field": "x", "type": "quantitative", "scale": {"domain": [0, 1303], "nice": false, "zero": false}, "axis": null},
            "y": {"field": "y", "type": "quantitative", "scale": {"domain": [0, 461], "reverse": true, "nice": false, "zero": false}, "axis": null},
            "x2": {"field": "x2"},
            "y2": {"field": "y2"}
          }
        },
        {
          "data": {"values": [
            {"x": 257, "y": 137, "x2": 407, "y2": 86}, {"x": 407, "y": 86, "x2": 398.2, "y2": 84.3}, {"x": 407, "y": 86, "x2": 401.1, "y2": 92.8},
            {"x": 706, "y": 89, "x2": 818, "y2": 89}, {"x": 818, "y": 89, "x2": 810, "y2": 84.5}, {"x": 818, "y": 89, "x2": 810, "y2": 93.5},
            {"x": 1180, "y": 240, "x2": 1180, "y2": 290}, {"x": 1180, "y": 290, "x2": 1175.5, "y2": 282}, {"x": 1180, "y": 290, "x2": 1184.5, "y2": 282},
            {"x": 255, "y": 338, "x2": 405, "y2": 388}, {"x": 405, "y": 388, "x2": 399, "y2": 381.3}, {"x": 405, "y": 388, "x2": 396.2, "y2": 389.8},
            {"x": 1055, "y": 363, "x2": 1047, "y2": 358.5}, {"x": 1055, "y": 363, "x2": 1047, "y2": 367.5}
          ]},
          "mark": {"type": "rule", "color": "#000000", "strokeWidth": 1.5},
          "encoding": {
            "x": {"field": "x", "type": "quantitative", "axis": null},
            "y": {"field": "y", "type": "quantitative", "axis": null},
            "x2": {"field": "x2"},
            "y2": {"field": "y2"}
          }
        },
        {
          "data": {"values": [{"x": 937, "y": 363, "x2": 1054, "y2": 363}]},
          "mark": {"type": "rule", "color": "#000000", "strokeWidth": 1.5, "strokeDash": [7, 5]},
          "encoding": {
            "x": {"field": "x", "type": "quantitative", "axis": null},
            "y": {"field": "y", "type": "quantitative", "axis": null},
            "x2": {"field": "x2"},
            "y2": {"field": "y2"}
          }
        },
        {
          "data": {"values": [
            {"x": 270, "y": 56, "text": "Quantitative"}, {"x": 270, "y": 83, "text": "analysis"},
            {"x": 270, "y": 386, "text": "Qualitative"}, {"x": 270, "y": 412, "text": "analysis"}
          ]},
          "mark": {"type": "text", "fontSize": 21, "fontWeight": "bold", "align": "center", "baseline": "middle", "color": "#000000"},
          "encoding": {
            "x": {"field": "x", "type": "quantitative", "axis": null},
            "y": {"field": "y", "type": "quantitative", "axis": null},
            "text": {"field": "text"}
          }
        },
        {
          "data": {"values": [
            {"x": 557, "y": 47, "text": "Local / global calibration on"},
            {"x": 557, "y": 72, "text": "reference analysis and validation"},
            {"x": 557, "y": 97, "text": "on independent sample set"}
          ]},
          "mark": {"type": "text", "fontSize": 17, "align": "center", "baseline": "middle", "color": "#000000"},
          "encoding": {
            "x": {"field": "x", "type": "quantitative", "axis": null},
            "y": {"field": "y", "type": "quantitative", "axis": null},
            "text": {"field": "text"}
          }
        },
        {
          "data": {"values": [
            {"x": 497, "y": 381, "text": "Assessment of statistical"},
            {"x": 497, "y": 405, "text": "distances between spectra,"},
            {"x": 497, "y": 429, "text": "calibration of spectral classes"}
          ]},
          "mark": {"type": "text", "fontSize": 14.5, "align": "center", "baseline": "middle", "color": "#000000"},
          "encoding": {
            "x": {"field": "x", "type": "quantitative", "axis": null},
            "y": {"field": "y", "type": "quantitative", "axis": null},
            "text": {"field": "text"}
          }
        },
        {
          "data": {"values": [{"x": 557, "y": 137, "text": "(PLS )"}]},
          "mark": {"type": "text", "fontSize": 21, "align": "center", "baseline": "middle", "color": "#000000"},
          "encoding": {
            "x": {"field": "x", "type": "quantitative", "axis": null},
            "y": {"field": "y", "type": "quantitative", "axis": null},
            "text": {"field": "text"}
          }
        },
        {
          "data": {"values": [{"x": 497, "y": 352, "text": "(PCA, RDA, DA)"}]},
          "mark": {"type": "text", "fontSize": 17, "align": "center", "baseline": "middle", "color": "#000000"},
          "encoding": {
            "x": {"field": "x", "type": "quantitative", "axis": null},
            "y": {"field": "y", "type": "quantitative", "axis": null},
            "text": {"field": "text"}
          }
        },
        {
          "data": {"values": [{"x": 846, "y": 51, "text": "Selected model :"}]},
          "mark": {"type": "text", "fontSize": 22, "align": "left", "baseline": "middle", "color": "#000000"},
          "encoding": {
            "x": {"field": "x", "type": "quantitative", "axis": null},
            "y": {"field": "y", "type": "quantitative", "axis": null},
            "text": {"field": "text"}
          }
        },
        {
          "data": {"values": [{"x": 846, "y": 91, "text": "highest R², RPD ; lowest SEP, SECV"}]},
          "mark": {"type": "text", "fontSize": 16, "align": "left", "baseline": "middle", "color": "#000000"},
          "encoding": {
            "x": {"field": "x", "type": "quantitative", "axis": null},
            "y": {"field": "y", "type": "quantitative", "axis": null},
            "text": {"field": "text"}
          }
        },
        {
          "data": {"values": [{"x": 163, "y": 235, "text": "Pretreatment"}, {"x": 163, "y": 267, "text": "of spectra"}]},
          "mark": {"type": "text", "fontSize": 23.5, "align": "center", "baseline": "middle", "color": "#000000"},
          "encoding": {
            "x": {"field": "x", "type": "quantitative", "axis": null},
            "y": {"field": "y", "type": "quantitative", "axis": null},
            "text": {"field": "text"}
          }
        },
        {
          "data": {"values": [{"x": 1183, "y": 335, "text": "Routine analysis"}]},
          "mark": {"type": "text", "fontSize": 21, "align": "center", "baseline": "middle", "color": "#000000"},
          "encoding": {
            "x": {"field": "x", "type": "quantitative", "axis": null},
            "y": {"field": "y", "type": "quantitative", "axis": null},
            "text": {"field": "text"}
          }
        },
        {
          "data": {"values": [{"x": 1183, "y": 375, "text": "(Prediction on"}, {"x": 1183, "y": 399, "text": "unknown samples)"}]},
          "mark": {"type": "text", "fontSize": 17, "align": "center", "baseline": "middle", "color": "#000000"},
          "encoding": {
            "x": {"field": "x", "type": "quantitative", "axis": null},
            "y": {"field": "y", "type": "quantitative", "axis": null},
            "text": {"field": "text"}
          }
        }
      ]
    }
  ]
}
